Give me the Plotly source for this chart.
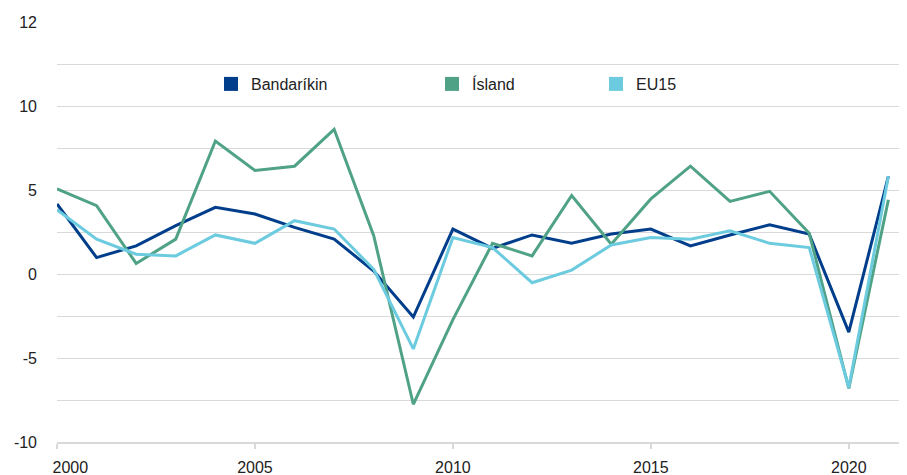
import plotly.graph_objects as go

years = list(range(2000, 2022))
bandarikin = [4.2, 1.0, 1.7, 2.9, 4.0, 3.6, 2.8, 2.1, 0.2, -2.55, 2.7, 1.55, 2.35, 1.85, 2.4, 2.7, 1.7, 2.35, 2.95, 2.4, -3.45, 5.85]
island = [5.1, 4.1, 0.65, 2.1, 7.95, 6.2, 6.45, 8.65, 2.3, -7.75, -2.7, 1.85, 1.1, 4.7, 1.8, 4.5, 6.45, 4.35, 4.95, 2.45, -6.8, 4.45]
eu15 = [3.85, 2.1, 1.2, 1.1, 2.35, 1.85, 3.2, 2.7, 0.3, -4.45, 2.2, 1.6, -0.5, 0.25, 1.75, 2.2, 2.1, 2.6, 1.85, 1.6, -6.75, 5.85]

series_names = ["Bandaríkin", "Ísland", "EU15"]
colors = ["#003e8b", "#4fa285", "#6ccbdf"]

y_tickvals = [-10, -7.5, -5, -2.5, 0, 2.5, 5, 7.5, 10, 12.5, 15]
y_ticktext = ["-10", "", "-5", "", "0", "", "5", "", "10", "", "12"]
x_tickvals = [2000, 2005, 2010, 2015, 2020]
x_ticktext = ["\u00a0" * 6 + "2000", "2005", "2010", "2015", "2020"]

# page body has an 8px margin; figure is sized so the plot lands where the reference has it
OFF = 8
W, H = 899, 467
ML, MR, MT, MB = 57 - OFF, 0, 22 - OFF, 33
PW, PH = W - ML - MR, H - MT - MB

fig = go.Figure()
for name, vals, col in zip(series_names, [bandarikin, island, eu15], colors):
    fig.add_trace(go.Scatter(x=years, y=vals, mode="lines", name=name,
                             line=dict(color=col, width=3), showlegend=False))

legend_ids = ["legend", "legend2", "legend3"]
legend_px = [224, 445, 609]
for name, col, lid in zip(series_names, colors, legend_ids):
    fig.add_trace(go.Scatter(x=[None], y=[None], mode="markers", name=name,
                             marker=dict(symbol="square", size=14, color=col, line=dict(width=0)),
                             legend=lid, showlegend=True))

font = dict(family="Arial, Liberation Sans, sans-serif", size=16, color="#222222")
layout_legends = {}
for lid, px in zip(legend_ids, legend_px):
    layout_legends[lid] = dict(x=(px - 13 - 57) / PW, xref="paper", xanchor="left",
                               y=1 - (84 - 22) / PH, yref="paper", yanchor="middle",
                               bgcolor="rgba(0,0,0,0)", borderwidth=0, font=font)

fig.update_layout(
    width=W, height=H,
    margin=dict(l=ML, r=MR, t=MT, b=MB, autoexpand=False),
    paper_bgcolor="white", plot_bgcolor="white",
    font=font,
    xaxis=dict(range=[2000, 2021.47], tickvals=x_tickvals, ticktext=x_ticktext,
               showgrid=False, zeroline=False, showline=True, linecolor="#d9d9d9", linewidth=1.5,
               ticks="outside", ticklen=5, tickcolor="#d9d9d9", tickwidth=1.5,
               ticklabelstandoff=5, tickfont=font, automargin=False),
    yaxis=dict(range=[-10, 15.05], tickvals=y_tickvals, ticktext=y_ticktext,
               showgrid=True, gridcolor="#d9d9d9", gridwidth=1, zeroline=False,
               showline=False, ticks="", ticklabelstandoff=19, tickfont=font, automargin=False),
    **layout_legends,
)
fig.write_html("out.html")
